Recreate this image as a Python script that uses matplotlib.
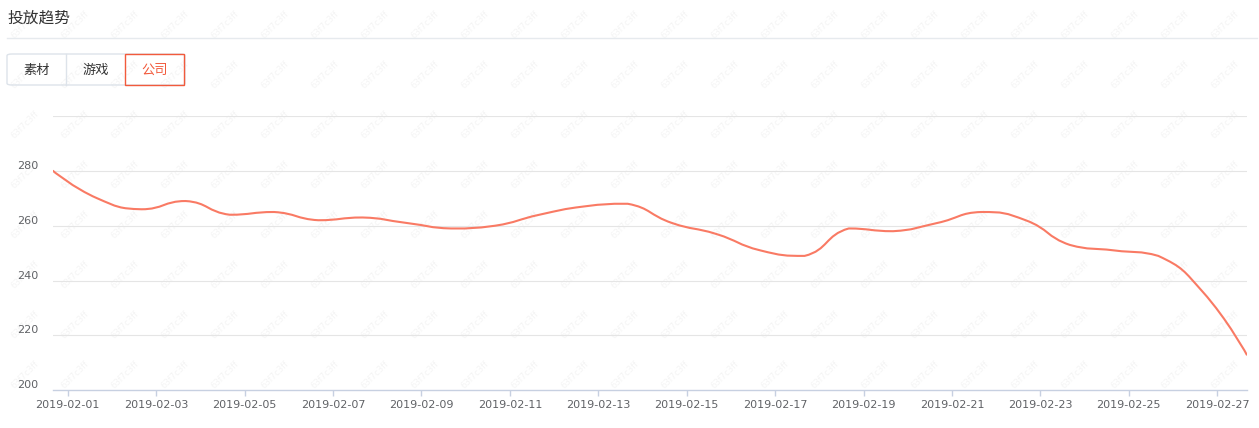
import numpy as np
import matplotlib
matplotlib.use('Agg')
import matplotlib.pyplot as plt
from matplotlib.path import Path
from matplotlib.patches import PathPatch, FancyBboxPatch, Rectangle
from matplotlib.transforms import ScaledTranslation

plt.rcParams['font.family'] = ['Noto Sans CJK SC', 'DejaVu Sans']

# ---- data ----
dates = ['2019-02-%02d' % d for d in range(1, 29)]
values = [280, 270, 266, 269, 264, 265, 262, 263, 261, 259,
          260, 264, 267, 268, 261, 257, 251, 249, 259, 258,
          261, 265, 262, 253, 251, 249, 236, 213]
tabs = ['素材', '游戏', '公司']
title = '投放趋势'
yticks = [200, 220, 240, 260, 280, 300]

W, H = 1259, 428
fig = plt.figure(figsize=(W / 100, H / 100), dpi=100)
fig.patch.set_facecolor('white')

def fx(px):
    return px / W

def fy(py):
    return 1 - py / H

# faint watermark, kept inside the figure, behind everything
for wx in range(25, W - 20, 50):
    for wy in range(25, H - 20, 50):
        fig.text(fx(wx), fy(wy), '63f7c3ff', rotation=45, fontsize=6,
                 color='#f4f4f4', ha='center', va='center', zorder=-5,
                 family='DejaVu Sans')

# header
fig.text(fx(7), fy(18), title, fontsize=11.3, color='#333333', ha='left', va='center')
fig.add_artist(plt.Line2D([fx(7), fx(1257)], [fy(38), fy(38)], color='#e6eaee', lw=1))

# tabs
fig.add_artist(FancyBboxPatch((fx(7), fy(85)), fx(178), 31 / H,
                              boxstyle='round,pad=0,rounding_size=0.004',
                              transform=fig.transFigure, fill=False,
                              edgecolor='#dde3ea', lw=1))
fig.add_artist(plt.Line2D([fx(66), fx(66)], [fy(54), fy(85)], color='#dde3ea', lw=1))
fig.add_artist(Rectangle((fx(125), fy(85)), fx(59), 31 / H, transform=fig.transFigure,
                         fill=False, edgecolor='#f25a3c', lw=1))
for k, t in enumerate(tabs):
    c = '#f25a3c' if k == 2 else '#333333'
    fig.text(fx(37 + 59 * k), fy(70), t, fontsize=9.5, color=c, ha='center', va='center')

# chart area
ax = fig.add_axes([fx(53), fy(390.3), fx(1246.7 - 53), (390.3 - 116) / H])
ax.set_facecolor('none')
n = len(values)
xs = np.arange(n) - 1 / 3.0
ys = np.array(values, dtype=float)
ax.set_xlim(xs[0], xs[-1])
ax.set_ylim(200, 300)

# echarts-like smooth bezier (smooth = 0.5), distances in pixel space
sx, sy = 44.2, 2.743
smooth = 0.5
cp_in = np.zeros((n, 2))
cp_out = np.zeros((n, 2))
for i in range(n):
    p = np.array([xs[i], ys[i]])
    if i == 0 or i == n - 1:
        cp_in[i] = p
        cp_out[i] = p
        continue
    prv = np.array([xs[i - 1], ys[i - 1]])
    nxt = np.array([xs[i + 1], ys[i + 1]])
    v = nxt - prv
    d0 = np.hypot((p[0] - prv[0]) * sx, (p[1] - prv[1]) * sy)
    d1 = np.hypot((nxt[0] - p[0]) * sx, (nxt[1] - p[1]) * sy)
    r = d1 / (d0 + d1)
    c1 = p - v * smooth * (1 - r)
    c2 = p + v * smooth * r
    c1 = np.clip(c1, np.minimum(prv, p), np.maximum(prv, p))
    c2 = np.clip(c2, np.minimum(nxt, p), np.maximum(nxt, p))
    cp_in[i] = c1
    cp_out[i] = c2

verts = [(xs[0], ys[0])]
codes = [Path.MOVETO]
for i in range(n - 1):
    verts += [tuple(cp_out[i]), tuple(cp_in[i + 1]), (xs[i + 1], ys[i + 1])]
    codes += [Path.CURVE4] * 3
ax.add_patch(PathPatch(Path(verts, codes), fill=False, edgecolor='#f97a64', lw=1.5,
                       capstyle='round', joinstyle='round', zorder=3))

# grid and axes
for yv in yticks[1:]:
    ax.axhline(yv, color='#e5e5e5', lw=0.8, zorder=1)
for s in ['top', 'right', 'left']:
    ax.spines[s].set_visible(False)
ax.spines['bottom'].set_color('#c7d0e1')
ax.spines['bottom'].set_linewidth(1)
ax.set_yticks([])
tick_idx = list(range(0, n, 2))
ax.set_xticks(tick_idx)
ax.set_xticklabels([dates[i] for i in tick_idx], family='DejaVu Sans')
ax.tick_params(axis='x', length=4, width=1, color='#c7d0e1', labelsize=8,
               labelcolor='#606266', pad=3)

off = ScaledTranslation(0, 5 / 100, fig.dpi_scale_trans)
trans = ax.get_yaxis_transform() + off
for yv in yticks[:-1]:
    ax.text((17 - 53) / (1246.7 - 53), yv, str(yv), transform=trans, fontsize=8,
            color='#606266', ha='left', va='center', family='DejaVu Sans')

fig.savefig('out.png', dpi=100)
